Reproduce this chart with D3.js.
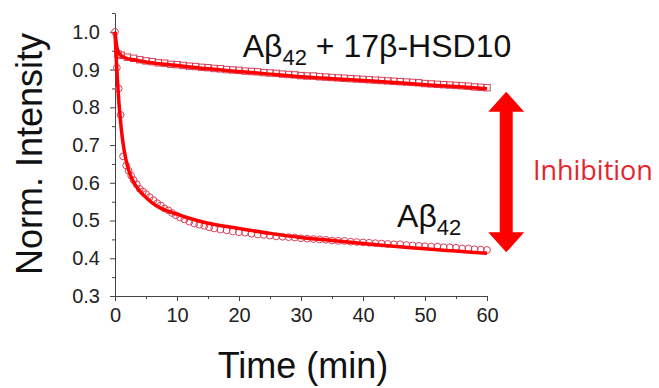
<!DOCTYPE html>
<html>
<head>
<meta charset="utf-8">
<script src="https://cdn.jsdelivr.net/npm/d3@7"></script>
<style>
body { margin: 0; background: #fff; }
text { font-family: Arial, "Liberation Sans", sans-serif; }
</style>
</head>
<body>
<div id="chart"></div>
<script>
var width = 659,
    height = 388;

// Aβ42 alone (open circles)
var abTime = [0, 0.3, 0.6, 0.9, 1.3, 1.8, 2.2, 2.6, 3.0, 3.5, 4.0, 4.5, 5.0, 5.6, 6.2, 6.8, 7.4, 8.0, 8.6, 9.2, 9.8,
    10.5, 11.2, 12.0, 12.8, 13.6, 14.4, 15.2, 16, 17, 18, 19, 20, 21, 22, 23, 24, 25, 26, 27, 28, 29, 30,
    31, 32, 33, 34, 35, 36, 37, 38, 39, 40, 41, 42, 43, 44, 45, 46, 47, 48, 49, 50,
    51, 52, 53, 54, 55, 56, 57, 58, 59, 60];
var abValue = [1.0, 0.905, 0.85, 0.78, 0.67, 0.646, 0.632, 0.619, 0.607, 0.596, 0.584, 0.577, 0.570, 0.562, 0.554, 0.546, 0.540, 0.532, 0.527, 0.520, 0.514,
    0.508, 0.503, 0.497, 0.492, 0.489, 0.486, 0.482, 0.479, 0.476, 0.474, 0.471, 0.469, 0.468, 0.465, 0.463, 0.462, 0.460, 0.458, 0.457, 0.456, 0.455, 0.453,
    0.452, 0.451, 0.450, 0.449, 0.447, 0.446, 0.446, 0.444, 0.443, 0.442, 0.441, 0.440, 0.439, 0.438, 0.437, 0.437, 0.435, 0.434, 0.433, 0.432,
    0.431, 0.431, 0.429, 0.429, 0.428, 0.426, 0.426, 0.424, 0.423, 0.422];

// Aβ42 + 17β-HSD10 (open squares)
var hsdTime = [0.5, 1, 2, 3, 4, 5, 6, 7, 8, 9, 10, 11, 12, 13, 14, 15, 16, 17, 18, 19, 20,
    21, 22, 23, 24, 25, 26, 27, 28, 29, 30, 31, 32, 33, 34, 35, 36, 37, 38, 39, 40,
    41, 42, 43, 44, 45, 46, 47, 48, 49, 50, 51, 52, 53, 54, 55, 56, 57, 58, 59, 60];
var hsdValue = [0.941, 0.938, 0.933, 0.930, 0.926, 0.923, 0.921, 0.918, 0.917, 0.914, 0.913, 0.911, 0.909, 0.908, 0.906, 0.905, 0.903, 0.902, 0.900, 0.899, 0.898,
    0.896, 0.895, 0.894, 0.892, 0.891, 0.890, 0.888, 0.887, 0.886, 0.884, 0.883, 0.883, 0.881, 0.880, 0.879, 0.878, 0.877, 0.876, 0.875, 0.874,
    0.873, 0.872, 0.871, 0.870, 0.869, 0.868, 0.867, 0.866, 0.865, 0.863, 0.862, 0.861, 0.860, 0.859, 0.858, 0.857, 0.856, 0.854, 0.853, 0.852];

// fitted curves
var abFitTime = [0, 0.2, 0.4, 0.6, 0.8, 1.0, 1.3, 1.6, 2.0, 2.5, 3, 4, 5, 6, 7, 8, 10, 12, 15, 20, 25, 30, 35, 40, 45, 50, 55, 60];
var abFitValue = [1.0, 0.93, 0.87, 0.82, 0.78, 0.745, 0.705, 0.675, 0.645, 0.62, 0.602, 0.578, 0.561, 0.547, 0.536, 0.528, 0.517, 0.506, 0.493, 0.479, 0.466, 0.455, 0.447, 0.439, 0.432, 0.425, 0.419, 0.413];
var hsdFitTime = [0, 0.3, 0.6, 1.0, 1.5, 2, 3, 5, 8, 10, 15, 20, 25, 30, 35, 40, 45, 50, 55, 60];
var hsdFitValue = [1.0, 0.96, 0.945, 0.937, 0.932, 0.929, 0.926, 0.920, 0.914, 0.911, 0.902, 0.895, 0.888, 0.881, 0.876, 0.871, 0.866, 0.860, 0.855, 0.849];

var xTicks = [0, 10, 20, 30, 40, 50, 60];
var xMinor = [5, 15, 25, 35, 45, 55];
var yTicks = [0.3, 0.4, 0.5, 0.6, 0.7, 0.8, 0.9, 1.0];
var yMinor = [0.35, 0.45, 0.55, 0.65, 0.75, 0.85, 0.95, 1.05];

var red = '#ff0000';

var svg = d3.select('#chart')
    .append('svg')
    .attr('width', width)
    .attr('height', height);

var x = d3.scaleLinear().domain([0, 60]).range([115, 487]);
var y = d3.scaleLinear().domain([0.3, 1.05]).range([296, 13]);

// axes
svg.append('g')
    .attr('transform', 'translate(0,' + y(0.3) + ')')
    .call(d3.axisBottom(x).tickValues(xTicks).tickSize(5).tickSizeOuter(0).tickPadding(7));
svg.append('g')
    .attr('transform', 'translate(0,' + y(0.3) + ')')
    .call(d3.axisBottom(x).tickValues(xMinor).tickSize(3).tickSizeOuter(0).tickFormat(''))
    .select('.domain').remove();

svg.append('g')
    .attr('transform', 'translate(' + x(0) + ',0)')
    .call(d3.axisLeft(y).tickValues(yTicks).tickFormat(d3.format('.1f')).tickSize(5).tickSizeOuter(0).tickPadding(10));
svg.append('g')
    .attr('transform', 'translate(' + x(0) + ',0)')
    .call(d3.axisLeft(y).tickValues(yMinor).tickSize(3).tickSizeOuter(0).tickFormat(''))
    .select('.domain').remove();

svg.selectAll('.domain, .tick line').attr('stroke', '#444');
svg.selectAll('.tick text')
    .attr('font-size', 20)
    .attr('fill', '#222')
    .style('font-family', 'Arial, "Liberation Sans", sans-serif');

// axis titles
svg.append('text')
    .attr('x', 303)
    .attr('y', 378)
    .attr('text-anchor', 'middle')
    .attr('font-size', 36)
    .attr('fill', '#111')
    .text('Time (min)');

svg.append('text')
    .attr('transform', 'translate(42,154) rotate(-90)')
    .attr('text-anchor', 'middle')
    .attr('font-size', 36)
    .attr('fill', '#111')
    .text('Norm. Intensity');

// data markers
var abData = abTime.map((t, i) => ({ t: t, v: abValue[i] }));
var hsdData = hsdTime.map((t, i) => ({ t: t, v: hsdValue[i] }));

svg.append('g').selectAll('circle')
    .data(abData)
    .enter()
    .append('circle')
    .attr('cx', d => x(d.t))
    .attr('cy', d => y(d.v))
    .attr('r', 3.4)
    .attr('fill', 'none')
    .attr('stroke', '#d8405a')
    .attr('stroke-width', 1);

svg.append('g').selectAll('rect')
    .data(hsdData)
    .enter()
    .append('rect')
    .attr('x', d => x(d.t) - 3.2)
    .attr('y', d => y(d.v) - 3.2)
    .attr('width', 6.4)
    .attr('height', 6.4)
    .attr('fill', 'none')
    .attr('stroke', '#d8405a')
    .attr('stroke-width', 1);

// fit lines
var line = d3.line()
    .x(d => x(d.t))
    .y(d => y(d.v))
    .curve(d3.curveMonotoneX);

svg.append('path')
    .datum(abFitTime.map((t, i) => ({ t: t, v: abFitValue[i] })))
    .attr('d', line)
    .attr('fill', 'none')
    .attr('stroke', red)
    .attr('stroke-width', 3.5);

svg.append('path')
    .datum(hsdFitTime.map((t, i) => ({ t: t, v: hsdFitValue[i] })))
    .attr('d', line)
    .attr('fill', 'none')
    .attr('stroke', red)
    .attr('stroke-width', 3.5);

// series labels
var topLabel = svg.append('text')
    .attr('x', x(20.6))
    .attr('y', y(0.934))
    .attr('font-size', 32)
    .attr('fill', '#111');
topLabel.append('tspan').text('A\u03b2');
topLabel.append('tspan').attr('font-size', 22).attr('dy', 8).text('42');
topLabel.append('tspan').attr('dy', -8).text(' + 17\u03b2-HSD10');

var lowLabel = svg.append('text')
    .attr('x', x(45.5))
    .attr('y', y(0.483))
    .attr('font-size', 32)
    .attr('fill', '#111');
lowLabel.append('tspan').text('A\u03b2');
lowLabel.append('tspan').attr('font-size', 22).attr('dy', 8).text('42');

// inhibition arrow between the two curve ends
var ax = x(63.1),
    yTop = y(hsdFitValue[hsdFitValue.length - 1]) + 3,
    yBot = y(abFitValue[abFitValue.length - 1]) - 1,
    headH = 20, headW = 18, shaft = 6.5;
svg.append('path')
    .attr('d', 'M' + ax + ',' + yTop +
        'L' + (ax + headW) + ',' + (yTop + headH) +
        'L' + (ax + shaft) + ',' + (yTop + headH) +
        'L' + (ax + shaft) + ',' + (yBot - headH) +
        'L' + (ax + headW) + ',' + (yBot - headH) +
        'L' + ax + ',' + yBot +
        'L' + (ax - headW) + ',' + (yBot - headH) +
        'L' + (ax - shaft) + ',' + (yBot - headH) +
        'L' + (ax - shaft) + ',' + (yTop + headH) +
        'L' + (ax - headW) + ',' + (yTop + headH) + 'Z')
    .attr('fill', red);

svg.append('text')
    .attr('x', x(67.4))
    .attr('y', y(0.608))
    .attr('font-size', 27)
    .attr('fill', '#e3242b')
    .style('font-family', '"Open Sans", "Noto Sans", sans-serif')
    .text('Inhibition');
</script>
</body>
</html>
